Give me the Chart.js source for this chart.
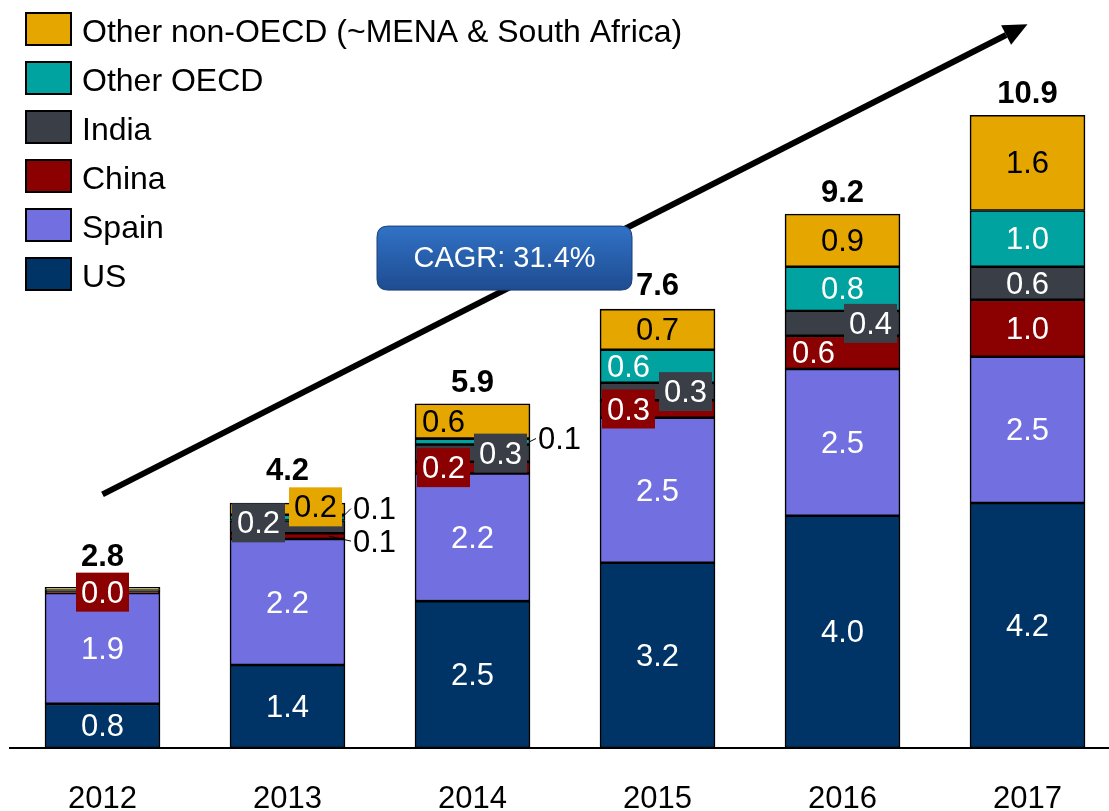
<!DOCTYPE html>
<html><head><meta charset="utf-8">
<script src="https://cdn.jsdelivr.net/npm/chart.js@4.4.0/dist/chart.umd.min.js"></script>
<style>html,body{margin:0;padding:0;background:#fff;} #wrap{width:1109px;height:811px;position:relative;}</style>
</head><body><div id="wrap"><canvas id="c" width="1109" height="811"></canvas></div>
<script>
// ---- data ----
const categories = ['2012','2013','2014','2015','2016','2017'];
const seriesNames = ['US','Spain','China','India','Other OECD','Other non-OECD (~MENA & South Africa)'];
const usValues          = [0.76, 1.43, 2.53, 3.19, 4.00, 4.22];
const spainValues       = [1.91, 2.17, 2.20, 2.50, 2.53, 2.52];
const chinaValues       = [0.03, 0.10, 0.20, 0.30, 0.57, 0.98];
const indiaValues       = [0.02, 0.22, 0.30, 0.30, 0.43, 0.57];
const otherOecdValues   = [0.01, 0.10, 0.10, 0.57, 0.76, 0.97];
const otherNonOecdValues= [0.04, 0.20, 0.60, 0.70, 0.91, 1.64];
const cagrText = 'CAGR: 31.4%';

// ---- styles ----
const FONT = '"Liberation Sans", Arial, Helvetica, sans-serif';
const colors = ['#003466', '#7270E0', '#8B0000', '#3A3F47', '#00A3A0', '#E5A600'];
const textColors = ['#fff', '#fff', '#fff', '#fff', '#fff', '#000'];
const seriesValues = [usValues, spainValues, chinaValues, indiaValues, otherOecdValues, otherNonOecdValues];

// label placement per series / category (styling only)
const C = {pos:'c'};
const labelStyle = [
  [C,C,C,C,C,C],
  [C,C,C,C,C,C],
  [{pos:'c',box:true}, {pos:'out',dy:5,inset:16}, {pos:'L',box:true}, {pos:'L',box:true}, {pos:'L'}, C],
  [null, {pos:'L',box:true,dy:-4}, {pos:'R',box:true}, {pos:'R',box:true}, {pos:'R',box:true}, C],
  [null, {pos:'out',dy:-9,inset:3}, {pos:'out',dy:-3,inset:0}, {pos:'L'}, C, C],
  [null, {pos:'R',box:true,dy:-2}, {pos:'L'}, C, C, C]
];
const totalLift = [9, 11, 0, 2, 0, 0];

const datasets = seriesValues.map((vals, d) => ({
  label: seriesNames[d],
  data: vals.map((v, i) => ({x: i, y: v})),
  backgroundColor: colors[d],
  borderColor: '#000',
  borderWidth: 1.6,
  barThickness: 115,
  borderSkipped: false
}));

const annotations = {
  arrowFrom: {x: 0, y: 4.37},
  arrowTo: {x: 5, y: 12.47},
  cagrBox: {x: 2.173, y: 8.44, w: 255, h: 64}
};

function roundRect(ctx, x, y, w, h, r) {
  ctx.beginPath();
  ctx.moveTo(x + r, y);
  ctx.lineTo(x + w - r, y); ctx.quadraticCurveTo(x + w, y, x + w, y + r);
  ctx.lineTo(x + w, y + h - r); ctx.quadraticCurveTo(x + w, y + h, x + w - r, y + h);
  ctx.lineTo(x + r, y + h); ctx.quadraticCurveTo(x, y + h, x, y + h - r);
  ctx.lineTo(x, y + r); ctx.quadraticCurveTo(x, y, x + r, y);
  ctx.closePath();
}

const decorPlugin = {
  id: 'decor',
  beforeDatasetsDraw(chart) {
    const ctx = chart.ctx, xs = chart.scales.x, ys = chart.scales.y;
    // arrow
    const x1 = xs.getPixelForValue(annotations.arrowFrom.x), y1 = ys.getPixelForValue(annotations.arrowFrom.y);
    const x2 = xs.getPixelForValue(annotations.arrowTo.x), y2 = ys.getPixelForValue(annotations.arrowTo.y);
    const ang = Math.atan2(y2 - y1, x2 - x1);
    const hl = 24, hw = 11;
    const bx = x2 - hl * Math.cos(ang), by = y2 - hl * Math.sin(ang);
    ctx.save();
    ctx.strokeStyle = '#000'; ctx.lineWidth = 6; ctx.lineCap = 'butt';
    ctx.beginPath(); ctx.moveTo(x1, y1); ctx.lineTo(bx, by); ctx.stroke();
    ctx.fillStyle = '#000';
    ctx.beginPath();
    ctx.moveTo(x2, y2);
    ctx.lineTo(bx + hw * Math.sin(ang), by - hw * Math.cos(ang));
    ctx.lineTo(bx - hw * Math.sin(ang), by + hw * Math.cos(ang));
    ctx.closePath(); ctx.fill();
    // CAGR box
    const b = annotations.cagrBox;
    const cx = xs.getPixelForValue(b.x), cy = ys.getPixelForValue(b.y);
    const left = cx - b.w / 2, top = cy - b.h / 2;
    const g = ctx.createLinearGradient(0, top, 0, top + b.h);
    g.addColorStop(0, '#3172C6'); g.addColorStop(1, '#1E4C90');
    roundRect(ctx, left, top, b.w, b.h, 11);
    ctx.fillStyle = g; ctx.fill();
    ctx.strokeStyle = '#1A3F78'; ctx.lineWidth = 1; ctx.stroke();
    ctx.fillStyle = '#fff'; ctx.font = '29px ' + FONT;
    ctx.textAlign = 'center'; ctx.textBaseline = 'middle';
    ctx.fillText(cagrText, cx, cy + 1);
    ctx.restore();
  },
  afterDatasetsDraw(chart) {
    const ctx = chart.ctx;
    ctx.save();
    // segment labels
    chart.data.datasets.forEach((ds, di) => {
      const meta = chart.getDatasetMeta(di);
      meta.data.forEach((bar, i) => {
        const st = labelStyle[di][i];
        if (!st) return;
        const txt = ds.data[i].y.toFixed(1);
        const segY = (bar.y + bar.base) / 2;
        const half = bar.width / 2;
        let x = bar.x, y = segY + (st.dy || 0);
        ctx.font = '31px ' + FONT;
        ctx.textBaseline = 'middle';
        if (st.pos === 'out') {
          const tx = bar.x + half + 8;
          ctx.strokeStyle = '#000'; ctx.lineWidth = 1;
          ctx.beginPath(); ctx.moveTo(bar.x + half - (st.inset || 0), segY); ctx.lineTo(tx - 2, y); ctx.stroke();
          ctx.fillStyle = '#000'; ctx.textAlign = 'left';
          ctx.fillText(txt, tx, y + 2);
          return;
        }
        if (st.pos === 'L') x = bar.x - 29;
        else if (st.pos === 'R') x = bar.x + 28;
        if (st.box) {
          ctx.fillStyle = colors[di];
          ctx.fillRect(x - 26.5, y - 19.5, 53, 39);
        }
        ctx.fillStyle = textColors[di]; ctx.textAlign = 'center';
        ctx.fillText(txt, x, y + 2);
      });
    });
    // totals
    const n = categories.length;
    ctx.font = 'bold 31px ' + FONT;
    ctx.textAlign = 'center'; ctx.textBaseline = 'alphabetic'; ctx.fillStyle = '#000';
    for (let i = 0; i < n; i++) {
      let top = Infinity, sum = 0, cx = 0;
      chart.data.datasets.forEach((ds, di) => {
        const bar = chart.getDatasetMeta(di).data[i];
        top = Math.min(top, bar.y); cx = bar.x; sum += ds.data[i].y;
      });
      ctx.fillText(sum.toFixed(1), cx, top - 12 - totalLift[i]);
    }
    ctx.restore();
  },
  afterDraw(chart) {
    const ctx = chart.ctx;
    ctx.save();
    const ds = chart.data.datasets;
    for (let k = 0; k < ds.length; k++) {
      const d = ds.length - 1 - k;
      const y0 = 12 + 49 * k;
      ctx.fillStyle = colors[d];
      ctx.fillRect(25, y0, 47, 34);
      ctx.strokeStyle = '#000'; ctx.lineWidth = 2;
      ctx.strokeRect(26, y0 + 1, 45, 32);
      ctx.fillStyle = '#000'; ctx.font = '32px ' + FONT;
      ctx.textAlign = 'left'; ctx.textBaseline = 'middle';
      ctx.fillText(ds[d].label, 82, y0 + 21);
    }
    ctx.restore();
  }
};

new Chart(document.getElementById('c'), {
  type: 'bar',
  data: {datasets},
  options: {
    responsive: false,
    animation: false,
    devicePixelRatio: 1,
    layout: {padding: {left: 10, right: 0, top: 5, bottom: 0}},
    plugins: {legend: {display: false}, tooltip: {enabled: false}},
    scales: {
      x: {
        type: 'linear', min: -0.5, max: 5.4405, stacked: true, offset: false,
        grid: {display: false, drawTicks: false},
        border: {display: true, color: '#000', width: 2},
        ticks: {
          stepSize: 1, includeBounds: false, autoSkip: false, maxRotation: 0,
          padding: 36, color: '#000', font: {size: 31, family: FONT, lineHeight: 1},
          callback: (v) => (Number.isInteger(v) && categories[v] !== undefined) ? categories[v] : ''
        },
        afterFit: (s) => { s.height = 63; }
      },
      y: {display: false, stacked: true, min: 0, max: 12.8}
    }
  },
  plugins: [decorPlugin]
});
</script></body></html>
